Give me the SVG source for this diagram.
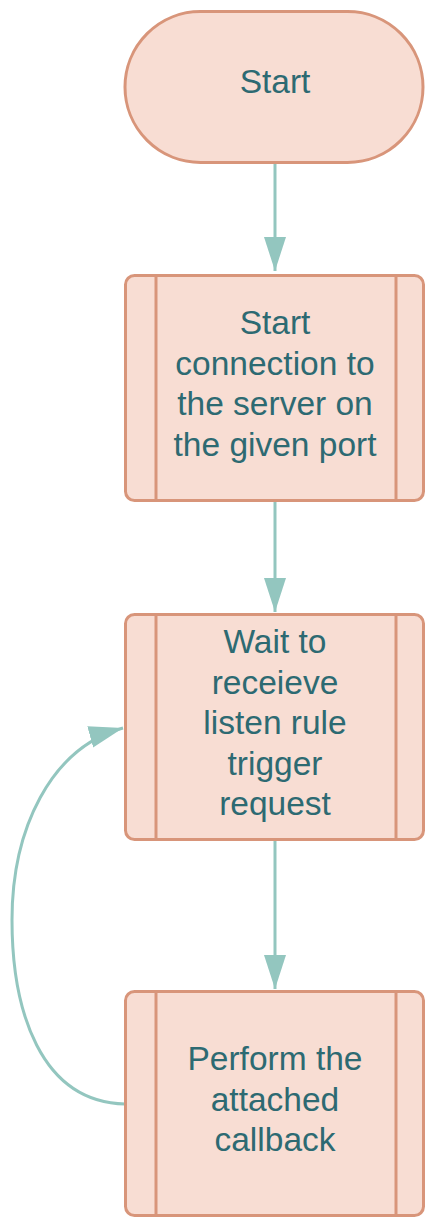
<svg xmlns="http://www.w3.org/2000/svg" width="425" height="1217" viewBox="0 0 425 1217">
<style>
.shape{fill:#f8ddd3;stroke:#d8957a;stroke-width:3}
.div{stroke:#d8957a;stroke-width:3;fill:none}
.t{font-family:"Liberation Sans",Arial,sans-serif;font-size:33.5px;fill:#2d6a72;text-anchor:middle}
.c{fill:none;stroke:#93c6bf;stroke-width:3}
</style>
<defs>
<marker id="ah" markerUnits="userSpaceOnUse" markerWidth="36" markerHeight="24" refX="34" refY="11" orient="auto" viewBox="0 0 36 22">
<polygon points="0,0 34,11 0,22" fill="#93c6bf"/>
</marker>
</defs>
<g id="connectors">
<path class="c" d="M275,163 V271" marker-end="url(#ah)"/>
<path class="c" d="M275,501 V612" marker-end="url(#ah)"/>
<path class="c" d="M275,841 V989" marker-end="url(#ah)"/>
<path class="c" d="M125,1104 C40,1102 12,1010 12,920 C12,830 50,748 123,728" marker-end="url(#ah)"/>
</g>
<g id="start">
<rect class="shape" x="125" y="11.5" width="298" height="151" rx="75.5"/>
<text class="t" x="275" y="93">Start</text>
</g>
<g id="connect">
<rect class="shape" x="125.5" y="275.5" width="298" height="225" rx="9"/>
<line class="div" x1="156" y1="275.5" x2="156" y2="500.5"/>
<line class="div" x1="396" y1="275.5" x2="396" y2="500.5"/>
<text class="t" x="275" y="334">Start</text>
<text class="t" x="275" y="374.5">connection to</text>
<text class="t" x="275" y="415">the server on</text>
<text class="t" x="275" y="455.5">the given port</text>
</g>
<g id="wait">
<rect class="shape" x="125.5" y="614.5" width="298" height="225" rx="9"/>
<line class="div" x1="156" y1="614.5" x2="156" y2="839.5"/>
<line class="div" x1="396" y1="614.5" x2="396" y2="839.5"/>
<text class="t" x="275" y="653">Wait to</text>
<text class="t" x="275" y="693.5">receieve</text>
<text class="t" x="275" y="734">listen rule</text>
<text class="t" x="275" y="774.5">trigger</text>
<text class="t" x="275" y="815">request</text>
</g>
<g id="perform">
<rect class="shape" x="125.5" y="991.5" width="298" height="224" rx="9"/>
<line class="div" x1="156" y1="991.5" x2="156" y2="1215.5"/>
<line class="div" x1="396" y1="991.5" x2="396" y2="1215.5"/>
<text class="t" x="275" y="1070">Perform the</text>
<text class="t" x="275" y="1110.5">attached</text>
<text class="t" x="275" y="1151">callback</text>
</g>
</svg>
